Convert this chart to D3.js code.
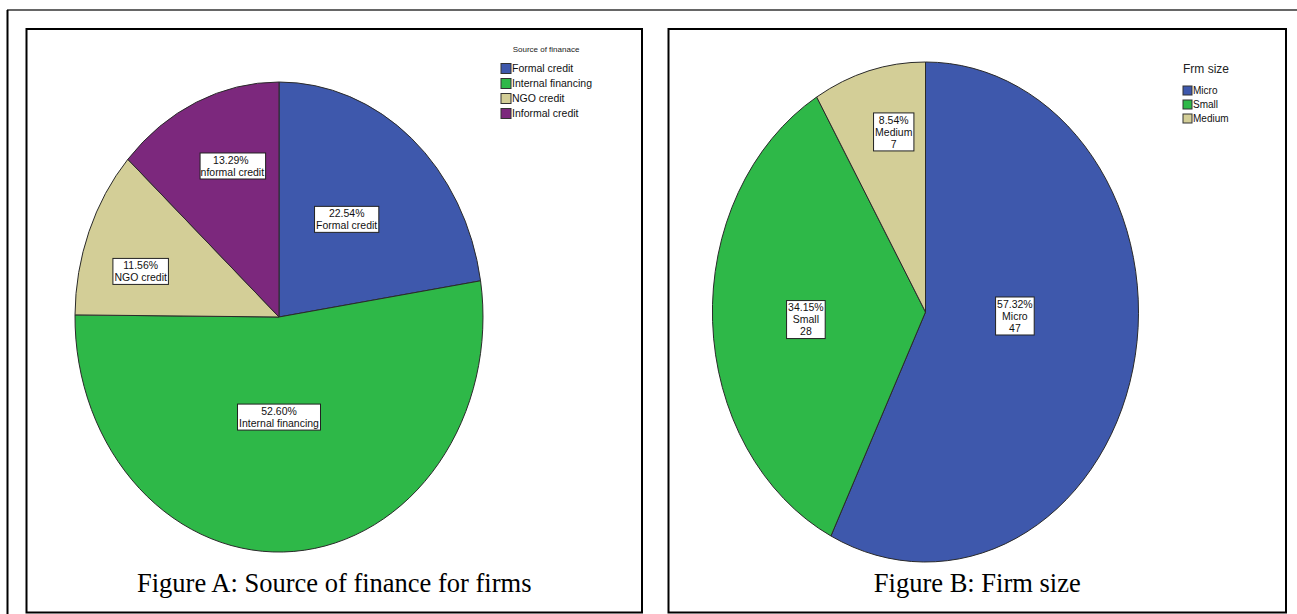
<!DOCTYPE html>
<html>
<head>
<meta charset="utf-8">
<script src="https://cdn.jsdelivr.net/npm/d3@7"></script>
<style>
  body { margin: 0; background: #fff; }
  svg { display: block; }
  .spss { font-family: "Liberation Sans", Arial, sans-serif; }
  .caption { font-family: "Liberation Serif", "Times New Roman", serif; }
</style>
</head>
<body>
<script>
// Figure A : source of finance
var financeCats = ["Formal credit", "Internal financing", "NGO credit", "Informal credit"];
var financePct = [22.54, 52.60, 11.56, 13.29];
var financeTitle = "Source of finanace";

// Figure B : firm size
var sizeCats = ["Micro", "Small", "Medium"];
var sizeCounts = [47, 28, 7];
var sizePct = [57.32, 34.15, 8.54];
var sizeTitle = "Frm size";

var captions = ["Figure A: Source of finance for firms", "Figure B: Firm size"];

var colors = ["#3e58ac", "#2eb848", "#d3ce97", "#7c287d"];

var w = 1297;
var h = 614;

var svg = d3.select("body").append("svg")
  .attr("width", w)
  .attr("height", h);

// frame lines
svg.append("line").attr("x1", 7).attr("x2", w).attr("y1", 10).attr("y2", 10)
  .attr("stroke", "#333").attr("stroke-width", 1.5);
svg.append("line").attr("x1", 7.5).attr("x2", 7.5).attr("y1", 10).attr("y2", h)
  .attr("stroke", "#000").attr("stroke-width", 2);

var panels = [
  { x: 26.5, y: 29, w: 615.5, h: 583.5 },
  { x: 668.5, y: 29, w: 617.5, h: 583.5 }
];
panels.forEach(function(p, i) {
  svg.append("rect")
    .attr("x", p.x).attr("y", p.y).attr("width", p.w).attr("height", p.h)
    .attr("fill", "none").attr("stroke", "#000").attr("stroke-width", 2);
  svg.append("text")
    .attr("class", "caption")
    .attr("x", p.x + p.w / 2)
    .attr("y", 592)
    .attr("text-anchor", "middle")
    .attr("font-size", "26.5px")
    .attr("fill", "#000")
    .text(captions[i]);
});

var pie = d3.pie().sort(null).value(function(d) { return d; });
var unitArc = d3.arc().innerRadius(0).outerRadius(1);
var clipId = 0;

// draws a stretched pie (SPSS output is not round)
function drawPie(cfg) {
  var slices = pie(cfg.values);
  var g = svg.append("g").attr("class", "spss");

  g.append("g")
    .attr("transform", "translate(" + cfg.cx + "," + cfg.cy + ") scale(" + cfg.rx + "," + cfg.ry + ")")
    .selectAll("path")
    .data(slices)
    .enter()
    .append("path")
    .attr("d", unitArc)
    .attr("fill", function(d, i) { return colors[i]; })
    .attr("stroke", "#2a2a2a")
    .attr("stroke-width", 1)
    .attr("vector-effect", "non-scaling-stroke");

  // value labels
  slices.forEach(function(s, i) {
    var mid = (s.startAngle + s.endAngle) / 2;
    var lx = cfg.cx + Math.sin(mid) * cfg.rx * cfg.labelFx[i];
    var ly = cfg.cy - Math.cos(mid) * cfg.ry * cfg.labelFy[i];
    var lines = cfg.lines(i);
    var lh = 12;
    var trim = cfg.trim ? cfg.trim[i] : 0;

    var lg = g.append("g").attr("transform", "translate(" + lx + "," + ly + ")");
    var rect = lg.append("rect").attr("fill", "#fff").attr("stroke", "#222").attr("stroke-width", 1);
    var id = "lc" + (clipId++);
    var cpr = lg.append("clipPath").attr("id", id).append("rect");
    var tg = lg.append("g").attr("clip-path", "url(#" + id + ")");
    var t = tg.append("text")
      .attr("text-anchor", "middle")
      .attr("font-size", "10.5px")
      .attr("fill", "#111");
    lines.forEach(function(l, j) {
      t.append("tspan")
        .attr("x", 0)
        .attr("y", ((j - (lines.length - 1) / 2) * lh + 3.6) / 1.12)
        .text(l);
    });
    var bw = 0;
    t.selectAll("tspan").each(function() { bw = Math.max(bw, this.getComputedTextLength()); });
    var bxw = bw + 3 - trim;
    var bxh = lines.length * lh + 2;
    // an overlong label loses its first letter, as in the SPSS output
    t.attr("transform", "translate(" + (-trim / 2) + ",0) scale(1,1.12)");
    rect.attr("x", -bxw / 2).attr("y", -bxh / 2).attr("width", bxw).attr("height", bxh);
    cpr.attr("x", -bxw / 2).attr("y", -bxh / 2).attr("width", bxw).attr("height", bxh);
  });

  // legend
  var lgd = g.append("g");
  lgd.append("text")
    .attr("x", cfg.legend.titleX)
    .attr("y", cfg.legend.titleY)
    .attr("text-anchor", cfg.legend.titleAnchor)
    .attr("font-size", cfg.legend.titleSize)
    .attr("fill", "#222")
    .text(cfg.title);
  var items = lgd.selectAll("g.item")
    .data(cfg.cats)
    .enter()
    .append("g")
    .attr("class", "item")
    .attr("transform", function(d, i) {
      return "translate(" + cfg.legend.x + "," + (cfg.legend.y + i * cfg.legend.step) + ")";
    });
  items.append("rect")
    .attr("x", 0).attr("y", -cfg.legend.sw / 2)
    .attr("width", cfg.legend.sw).attr("height", cfg.legend.sw)
    .attr("fill", function(d, i) { return colors[i]; })
    .attr("stroke", "#333").attr("stroke-width", 1);
  items.append("text")
    .attr("x", cfg.legend.sw + 1)
    .attr("y", 3.8)
    .attr("font-size", cfg.legend.fontSize)
    .attr("fill", "#111")
    .text(function(d) { return d; });
}

drawPie({
  values: financePct,
  cats: financeCats,
  title: financeTitle,
  cx: 279, cy: 317, rx: 204, ry: 235,
  labelFx: [0.51, 0, 0.728, 0.558],
  labelFy: [0.547, 0.427, 0.533, 0.703],
  trim: [0, 0, 0, 4],
  lines: function(i) { return [financePct[i].toFixed(2) + "%", financeCats[i]]; },
  legend: { titleX: 546, titleY: 52, titleAnchor: "middle", titleSize: "8px",
            x: 501, y: 68.5, step: 15, sw: 10, fontSize: "10.5px" }
});

drawPie({
  values: sizeCounts,
  cats: sizeCats,
  title: sizeTitle,
  cx: 925.5, cy: 312, rx: 213, ry: 250,
  labelFx: [0.431, 0.562, 0.563],
  labelFy: [0.07, 0.79, 0.747],
  lines: function(i) { return [sizePct[i].toFixed(2) + "%", sizeCats[i], String(sizeCounts[i])]; },
  legend: { titleX: 1183, titleY: 73, titleAnchor: "start", titleSize: "12px",
            x: 1183, y: 90.5, step: 14, sw: 9, fontSize: "10px" }
});
</script>
</body>
</html>
